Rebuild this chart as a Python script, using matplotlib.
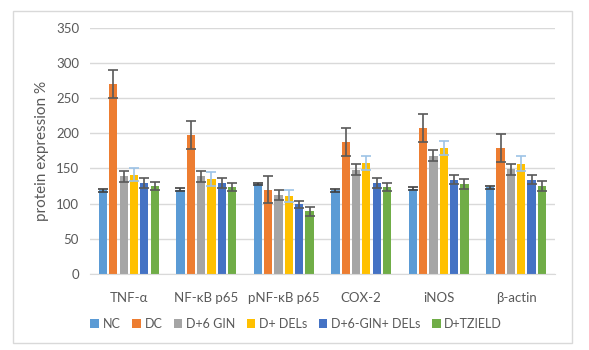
import matplotlib
matplotlib.use("Agg")
import matplotlib.pyplot as plt
import numpy as np
from matplotlib.patches import Rectangle

categories = ["TNF-α", "NF-κB p65", "pNF-κB p65", "COX-2", "iNOS", "β-actin"]
series_names = ["NC", "DC", "D+6 GIN", "D+ DELs", "D+6-GIN+ DELs", "D+TZIELD"]
colors = ["#5B9BD5", "#ED7D31", "#A5A5A5", "#FFC000", "#4472C4", "#70AD47"]
err_colors = ["#404040", "#595959", "#595959", "#9DC3E6", "#595959", "#595959"]

nc = [119, 120, 128, 119, 121, 123]
dc = [270, 198, 120, 188, 208, 179]
gin = [139, 139, 112, 148, 168, 149]
dels = [141, 135, 111, 158, 179, 157]
combo = [129, 129, 99, 129, 134, 134]
tz = [125, 124, 89, 124, 128, 125]

nc_err = [2, 2, 2, 2, 2, 2]
dc_err = [20, 20, 19, 20, 20, 20]
gin_err = [8, 8, 7, 8, 8, 8]
dels_err = [9, 10, 9, 10, 10, 10]
combo_err = [7, 7, 5, 7, 6, 6]
tz_err = [6, 6, 6, 6, 7, 7]

values = [nc, dc, gin, dels, combo, tz]
errors = [nc_err, dc_err, gin_err, dels_err, combo_err, tz_err]

plt.rcParams['font.family'] = ['Lato', 'DejaVu Sans']

fig = plt.figure(figsize=(5.89, 3.5), dpi=100)
ax = fig.add_axes([0.153, 0.217, 0.789, 0.704])

n = len(series_names)
slot = 0.8 / n
x = np.arange(len(categories))
for i in range(n):
    pos = x - 0.4 + slot * (i + 0.5)
    ax.bar(pos, values[i], width=slot * 0.8, color=colors[i], label=series_names[i], zorder=2)
    ax.errorbar(pos, values[i], yerr=errors[i], fmt='none', ecolor=err_colors[i],
                elinewidth=1.2, capsize=3.5, capthick=1.2, zorder=3)

ax.set_ylim(0, 350)
ax.set_yticks(range(0, 351, 50))
ax.set_xlim(-0.5, len(categories) - 0.5)
ax.set_xticks(x)
ax.set_xticklabels(categories)
ax.grid(axis='y', color='#D9D9D9', linewidth=1, zorder=0)
for s in ['top', 'right', 'left']:
    ax.spines[s].set_visible(False)
ax.spines['bottom'].set_color('#D9D9D9')
ax.tick_params(axis='both', length=0, colors='#595959', labelsize=9.5)
ax.tick_params(axis='x', pad=13)
ax.tick_params(axis='y', pad=8)
ax.set_ylabel("protein expression %", color='#595959', fontsize=11, labelpad=5)

leg = fig.legend(loc='center', bbox_to_anchor=(0.503, 0.075), ncol=6, frameon=False,
                 fontsize=9, handlelength=0.7, handleheight=0.7, handletextpad=0.3,
                 columnspacing=0.9, labelcolor='#595959')

fig.patches.append(Rectangle((13 / 589, 1 - 343 / 350), (572 - 13) / 589, (343 - 11) / 350,
                             transform=fig.transFigure, fill=False, edgecolor='#D9D9D9',
                             linewidth=1))

fig.savefig("out.png", dpi=100, facecolor='white')
